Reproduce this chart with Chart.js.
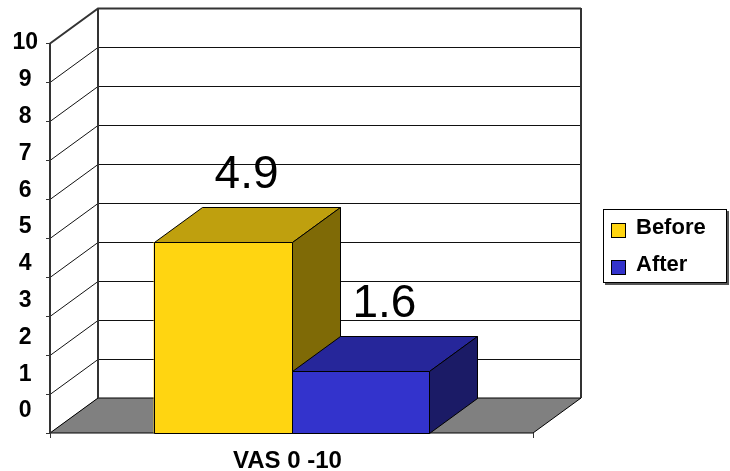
<!DOCTYPE html>
<html>
<head>
<meta charset="utf-8">
<script src="https://cdn.jsdelivr.net/npm/chart.js@4.4.1/dist/chart.umd.min.js"></script>
<style>
html, body { margin: 0; padding: 0; background: #fff; }
#chart { display: block; }
</style>
</head>
<body>
<canvas id="chart" width="730" height="471"></canvas>
<script>
const categories = ['VAS 0 -10']
const seriesNames = ['Before', 'After']
const beforeValues = [4.9]
const afterValues = [1.6]
const yTicks = [0, 1, 2, 3, 4, 5, 6, 7, 8, 9, 10]

const frontColors = ['#FFD511', '#3333CC']
const topColors = ['#BFA00E', '#26269A']
const sideColors = ['#7F6A06', '#1B1B66']
const DX = 48, DY = 35
const FONT = '"Liberation Sans", Arial, sans-serif'

function poly(ctx, pts, fill, stroke) {
    ctx.beginPath()
    pts.forEach((p, i) => i ? ctx.lineTo(p[0], p[1]) : ctx.moveTo(p[0], p[1]))
    ctx.closePath()
    if (fill) { ctx.fillStyle = fill; ctx.fill() }
    if (stroke) { ctx.strokeStyle = stroke; ctx.lineWidth = 1; ctx.stroke() }
}

function line(ctx, x1, y1, x2, y2) {
    ctx.beginPath()
    ctx.moveTo(x1, y1)
    ctx.lineTo(x2, y2)
    ctx.stroke()
}

// walls, floor and grid of the 3d box
const box3d = {
    id: 'box3d',
    beforeDatasetsDraw(chart) {
        const ctx = chart.ctx, a = chart.chartArea, ys = chart.scales.y
        const L = a.left, R = a.right, T = a.top, B = a.bottom
        ctx.save()
        ctx.lineWidth = 1
        ctx.strokeStyle = '#000'
        yTicks.forEach(v => {
            const py = Math.round(ys.getPixelForValue(v)) + 0.5
            ctx.strokeStyle = v == 10 ? '#333' : '#111'
            ctx.lineWidth = v == 10 ? 2 : 1
            ctx.beginPath()
            ctx.moveTo(L, py)
            ctx.lineTo(L + DX, py - DY)
            ctx.lineTo(R + DX, py - DY)
            ctx.stroke()
            ctx.lineWidth = 1
            ctx.strokeStyle = '#333'
            line(ctx, L - 4, py, L, py)
        })
        poly(ctx, [[L, B], [R, B], [R + DX, B - DY], [L + DX, B - DY]], '#808080', '#000')
        ctx.strokeStyle = '#333'
        ctx.lineWidth = 2
        line(ctx, L, T, L, B)
        line(ctx, L + DX, T - DY, L + DX, B - DY)
        line(ctx, R + DX, T - DY, R + DX, B - DY)
        ctx.lineWidth = 1
        line(ctx, L + 0.5, B, L + 0.5, B + 5)
        line(ctx, R + 0.5, B, R + 0.5, B + 5)
        ctx.restore()
    },
    afterDatasetsDraw(chart) {
        const ctx = chart.ctx
        ctx.save()
        chart.data.datasets.forEach((ds, i) => {
            chart.getDatasetMeta(i).data.forEach((bar, j) => {
                const p = bar.getProps(['x', 'y', 'base', 'width'], true)
                const x0 = Math.round(p.x - p.width / 2) + 0.5
                const x1 = Math.round(p.x + p.width / 2) + 0.5
                const y0 = Math.round(p.y) + 0.5
                const yb = Math.round(p.base) + 0.5
                poly(ctx, [[x0, y0], [x1, y0], [x1 + DX, y0 - DY], [x0 + DX, y0 - DY]], topColors[i], '#000')
                poly(ctx, [[x1, y0], [x1 + DX, y0 - DY], [x1 + DX, yb - DY], [x1, yb]], sideColors[i], '#000')
                poly(ctx, [[x0, y0], [x1, y0], [x1, yb], [x0, yb]], frontColors[i], '#000')
                ctx.fillStyle = '#000'
                ctx.font = `46px ${FONT}`
                ctx.textAlign = 'center'
                ctx.textBaseline = 'alphabetic'
                ctx.fillText(ds.data[j].toFixed(1), p.x + DX / 2, y0 - DY - 20)
            })
        })
        ctx.restore()
    },
    afterDraw(chart) {
        const ctx = chart.ctx
        const lx = 603, ly = 209, lw = 124, lh = 74
        ctx.save()
        ctx.fillStyle = '#555'
        ctx.fillRect(lx + 2, ly + 2, lw, lh)
        ctx.fillStyle = '#fff'
        ctx.fillRect(lx, ly, lw, lh)
        ctx.strokeStyle = '#000'
        ctx.lineWidth = 1
        ctx.strokeRect(lx + 0.5, ly + 0.5, lw - 1, lh - 1)
        ctx.font = `bold 22px ${FONT}`
        ctx.textAlign = 'left'
        ctx.textBaseline = 'alphabetic'
        chart.data.datasets.forEach((ds, i) => {
            const sy = ly + 14 + i * 37
            ctx.fillStyle = frontColors[i]
            ctx.fillRect(lx + 8, sy, 15, 15)
            ctx.strokeRect(lx + 8.5, sy + 0.5, 14, 14)
            ctx.fillStyle = '#000'
            ctx.fillText(ds.label, lx + 33, sy + 11)
        })
        ctx.restore()
    }
}

const tickFont = { family: FONT, size: 23, weight: 'bold' }

new Chart(document.getElementById('chart'), {
    type: 'bar',
    data: {
        labels: categories,
        datasets: [
            { label: seriesNames[0], data: beforeValues, backgroundColor: frontColors[0] },
            { label: seriesNames[1], data: afterValues, backgroundColor: frontColors[1] }
        ]
    },
    options: {
        responsive: false,
        animation: false,
        categoryPercentage: 0.571,
        barPercentage: 1,
        layout: { padding: { left: 0, top: 43, right: 197, bottom: 0 } },
        plugins: { legend: { display: false }, tooltip: { enabled: false } },
        scales: {
            x: {
                grid: { display: false, drawTicks: false },
                border: { display: false },
                ticks: { padding: 14, labelOffset: -4, color: '#000', font: { family: FONT, size: 24, weight: 'bold' } },
                afterFit(s) { s.height = 38 }
            },
            y: { display: false, min: 0, max: 10 },
            yl: {
                position: 'left',
                min: -0.598,
                max: 10,
                afterBuildTicks(s) { s.ticks = yTicks.map(v => ({ value: v })) },
                afterFit(s) { s.width = 50 },
                grid: { display: false, drawTicks: false },
                border: { display: false },
                ticks: { autoSkip: false, crossAlign: 'center', padding: 12, color: '#000', font: tickFont }
            }
        }
    },
    plugins: [box3d]
})
</script>
</body>
</html>
